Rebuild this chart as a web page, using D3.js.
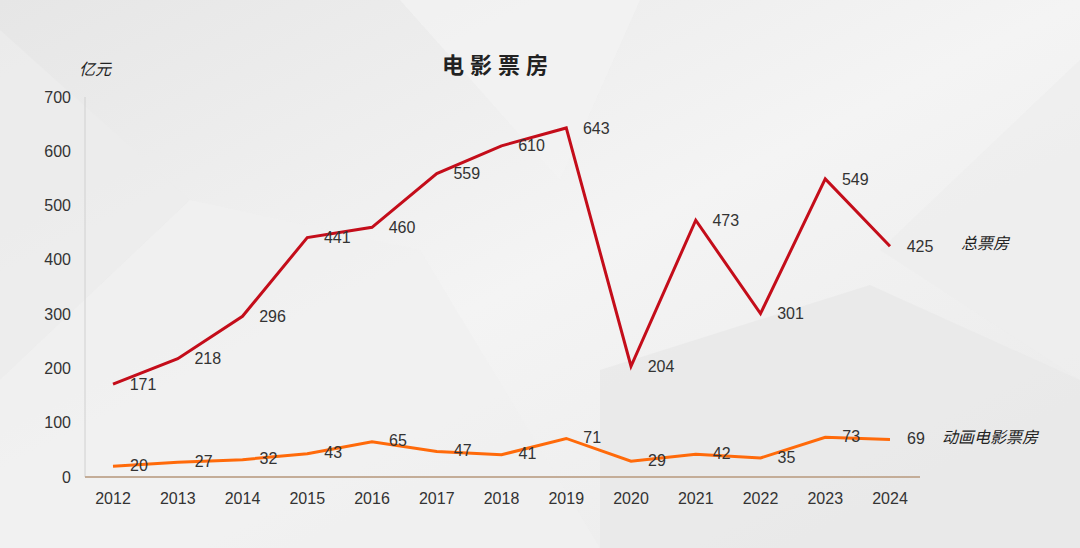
<!DOCTYPE html>
<html><head><meta charset="utf-8">
<script src="https://cdn.jsdelivr.net/npm/d3@7/dist/d3.min.js"></script>
<style>body{margin:0}svg{display:block;font-family:"Liberation Sans","Noto Sans CJK SC",sans-serif}</style>
</head><body><svg id="chart" width="1080" height="548"></svg>
<script>
const years = [2012,2013,2014,2015,2016,2017,2018,2019,2020,2021,2022,2023,2024];
const total = [171,218,296,441,460,559,610,643,204,473,301,549,425];
const anim = [20,27,32,43,65,47,41,71,29,42,35,73,69];
const yTicks = [0,100,200,300,400,500,600,700];

const svg = d3.select("#chart");

// background
const g0 = svg.append("defs").append("linearGradient").attr("id","bg").attr("x1",0).attr("y1",0).attr("x2",1).attr("y2",1);
g0.append("stop").attr("offset","0%").attr("stop-color","#e6e6e6");
g0.append("stop").attr("offset","50%").attr("stop-color","#f4f4f4");
g0.append("stop").attr("offset","100%").attr("stop-color","#e9e9e9");
svg.append("rect").attr("width",1080).attr("height",548).attr("fill","url(#bg)");
const polys = [
  [[0,30],[190,200],[0,380]],
  [[190,200],[420,250],[600,548],[0,548],[0,380]],
  [[600,370],[870,285],[1080,380],[1080,548],[600,548]],
  [[1080,60],[880,250],[1080,380]],
  [[400,0],[640,0],[560,180]]
];
const fills = ["#ececec","#f0f0f0","#e8e8e8","#eeeeee","#f2f2f2"];
svg.selectAll(".poly").data(polys).join("polygon")
  .attr("points",d=>d.map(p=>p.join(",")).join(" "))
  .attr("fill",(d,i)=>fills[i]).attr("opacity",0.8);

const x = d3.scalePoint().domain(years).range([113,890]);
const y = d3.scaleLinear().domain([0,700]).range([477,97]);

// axes
svg.append("line").attr("x1",85).attr("x2",85).attr("y1",97).attr("y2",477).attr("stroke","#d0d0d0");
svg.append("line").attr("x1",85).attr("x2",920).attr("y1",y(0)).attr("y2",y(0)).attr("stroke","#c4ad98").attr("stroke-width",2);
svg.selectAll(".yt").data(yTicks).join("text")
  .attr("x",71).attr("y",d=>y(d)).attr("dy","0.35em").attr("text-anchor","end")
  .attr("font-size",16).attr("fill","#333").text(d=>d);
svg.selectAll(".xt").data(years).join("text")
  .attr("x",d=>x(d)).attr("y",498).attr("dy","0.35em").attr("text-anchor","middle")
  .attr("font-size",16).attr("fill","#333").text(d=>d);

const line = d3.line().x((d,i)=>x(years[i])).y(d=>y(d));
svg.append("path").datum(total).attr("d",line).attr("fill","none").attr("stroke","#c40d1a").attr("stroke-width",3);
svg.append("path").datum(anim).attr("d",line).attr("fill","none").attr("stroke","#ff6a0a").attr("stroke-width",3);

svg.selectAll(".lt").data(total).join("text")
  .attr("x",(d,i)=>x(years[i])+30).attr("y",d=>y(d)).attr("dy","0.35em").attr("text-anchor","middle")
  .attr("font-size",16).attr("fill","#333").text(d=>d);
svg.selectAll(".la").data(anim).join("text")
  .attr("x",(d,i)=>x(years[i])+26).attr("y",(d,i)=>y(d)-1).attr("dy","0.35em").attr("text-anchor","middle")
  .attr("font-size",16).attr("fill","#333").text(d=>d);

svg.append("text").attr("x",498).attr("y",65).attr("dy","0.35em").attr("text-anchor","middle")
  .attr("font-family","Noto Sans CJK SC").attr("font-size",22).attr("font-weight","bold").attr("letter-spacing","6px").attr("fill","#222").text("电影票房");
const cjk = [["亿元",95,69],["总票房",985,243],["动画电影票房",990,437]];
svg.selectAll(".cj").data(cjk).join("text")
  .attr("x",d=>d[1]).attr("y",d=>d[2]).attr("dy","0.35em").attr("text-anchor","middle")
  .attr("font-family","Noto Sans CJK SC").attr("font-size",16).attr("font-style","italic").attr("fill","#222").text(d=>d[0]);
</script></body></html>
